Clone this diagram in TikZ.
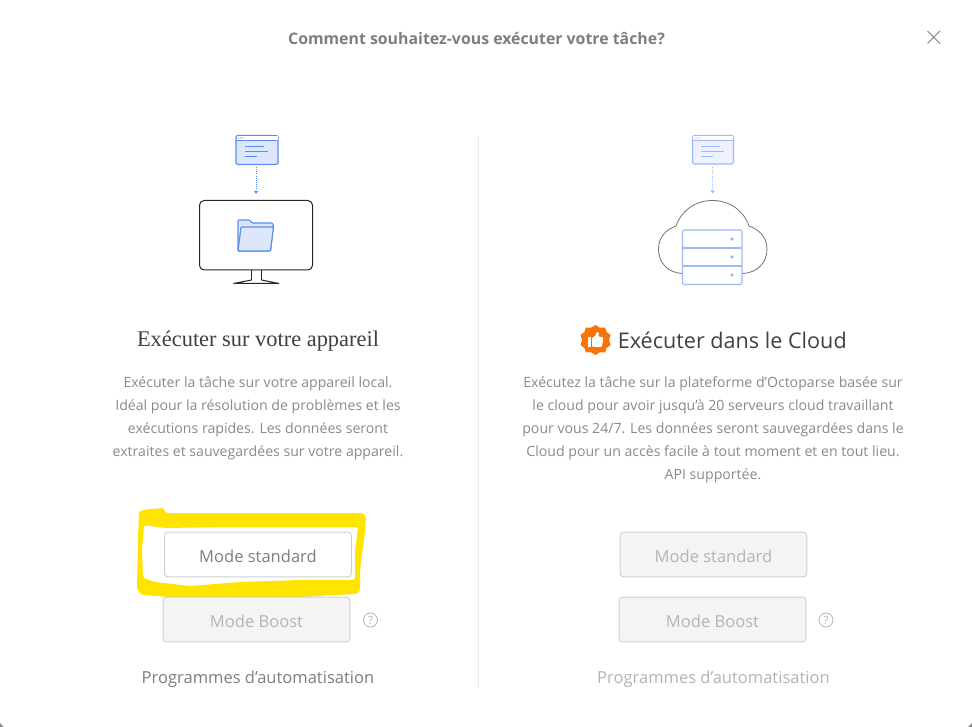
\documentclass[tikz,border=0pt]{standalone}
\usepackage{fontspec}
\setmainfont{Open Sans}
\newfontfamily\serifface{Liberation Serif}
\definecolor{hlyellow}{HTML}{FFE400}
\definecolor{btnedge}{HTML}{D0D0D0}
\definecolor{btnfill}{HTML}{F4F4F4}
\definecolor{txtgray}{HTML}{7E7E7E}
\definecolor{txtlight}{HTML}{B4B4B4}
\definecolor{bodytxt}{HTML}{8A8A8A}
\definecolor{blueA}{HTML}{5C8DF6}
\definecolor{blueB}{HTML}{9DB9FA}
\definecolor{fillA}{HTML}{DDE7FC}
\definecolor{fillB}{HTML}{EDF2FE}
\definecolor{orangeB}{HTML}{F97306}
\tikzset{
 x=0.75pt,y=-0.75pt,
 activebtn/.style={draw=btnedge,line width=0.7pt,fill=white,rounded corners=2.5pt,minimum width=140pt,minimum height=33.5pt,inner sep=0pt,text height=12.3pt,text depth=0pt,text=txtgray,font=\fontsize{12.4}{15}\selectfont},
 offbtn/.style={draw=btnedge,line width=0.7pt,fill=btnfill,rounded corners=2.5pt,minimum width=140pt,minimum height=33.5pt,inner sep=0pt,text height=12.3pt,text depth=0pt,text=txtlight,font=\fontsize{12.4}{15}\selectfont},
 para/.style={align=center,text=bodytxt,font=\fontsize{10.58}{17.25}\selectfont,inner sep=0pt},
 auto/.style={text=#1,font=\fontsize{12.4}{15}\selectfont,inner sep=0pt},
 help/.style={circle,draw=txtlight,line width=0.6pt,minimum size=10.5pt,inner sep=0pt,text=txtlight,font=\fontsize{8.5}{9}\selectfont},
}
\begin{document}
\begin{tikzpicture}
\useasboundingbox (0,0) rectangle (972,727);
\fill[white] (0,0) rectangle (972,727);
% window corners
\fill[black!45] (0,723) -- (4,727) -- (0,727) -- cycle;
\fill[black!45] (972,723) -- (968,727) -- (972,727) -- cycle;
% title and close
\node[text=txtgray,font=\fontsize{11.9}{15}\bfseries\selectfont,inner sep=0pt] (title) at (476.5,38.5) {Comment souhaitez-vous exécuter votre tâche?};
\draw[txtgray,line width=0.75pt] (927.5,31) -- (940,43.5) (940,31) -- (927.5,43.5);
% divider
\draw[black!8,line width=0.6pt] (478.5,136) -- (478.5,688);
% left window icon
\draw[blueA,line width=0.8pt,fill=fillA,rounded corners=1pt] (236,135.5) rectangle (278,164.5);
\fill[white] (236.5,136) rectangle (277.5,140.5);
\draw[blueA,line width=0.5pt] (236,140.5) -- (278,140.5);
\fill[blueA] (238.7,138) circle (.7) (240.7,138) circle (.7) (243,138) circle (.7);
\draw[blueA,line width=0.6pt] (244.5,146) -- (264,146) (244.5,151.3) -- (267.5,151.3) (244.5,156.5) -- (257,156.5);
\draw[blueA,line width=0.6pt,densely dotted] (256,167) -- (256,190);
\fill[blueA] (254,191) -- (258,191) -- (256,194) -- cycle;
% monitor
\draw[black!85,line width=0.75pt,rounded corners=3.5pt] (199.5,200.5) rectangle (312.5,270);
\draw[black!85,line width=0.75pt] (251.5,270) -- (251.5,280) (261.5,270) -- (261.5,280);
\draw[black!85,line width=0.75pt] (251.5,280) -- (233.5,283.5) -- (279,283.5) -- (261.5,280);
% folder
\draw[blueA,line width=0.9pt,fill=fillA,rounded corners=0.7pt] (238,220) -- (249.5,220) -- (252,223) -- (272.5,223) -- (273.5,226) -- (273,227) -- (270.5,251) -- (238,251) -- cycle;
\draw[blueA,line width=0.9pt,fill=fillA,rounded corners=0.7pt] (241,227) -- (273.5,227) -- (270.5,251) -- (238,251) -- cycle;
% right window icon
\draw[blueB,line width=0.8pt,fill=fillB,rounded corners=1pt] (692.5,135.5) rectangle (733.5,164);
\fill[white] (693,136) rectangle (733,140);
\draw[blueB,line width=0.5pt] (692.5,140.3) -- (733.5,140.3);
\fill[blueB] (695,138) circle (.7) (697,138) circle (.7) (699.3,138) circle (.7);
\draw[blueB,line width=0.6pt] (701,146) -- (720,146) (701,151.3) -- (724,151.3) (701,156.5) -- (713,156.5);
\draw[blueB,line width=0.6pt,densely dotted] (712.5,167) -- (712.5,190);
\fill[blueB] (710.5,190.5) -- (714.5,190.5) -- (712.5,193.5) -- cycle;
% cloud
\draw[black!55,line width=0.6pt] (683,273.5) .. controls (667,273) and (658.5,262) .. (658.5,249)
 .. controls (658.5,238) and (665,230) .. (676,226)
 .. controls (681,211) and (695,200.5) .. (712.5,200.5)
 .. controls (730,200.5) and (744,211) .. (749,226)
 .. controls (760,230) and (767,238) .. (767,249)
 .. controls (767,262) and (758,273) .. (742,273.5);
% server
\draw[blueB,line width=0.8pt,fill=white,rounded corners=1pt] (682.5,230) rectangle (742,284.5);
\draw[blueB,line width=0.8pt] (682.5,248) -- (742,248) (682.5,266) -- (742,266);
\fill[blueB] (732,239) circle (1.9) (732,257) circle (1.9) (732,275) circle (1.9);
% headings
\node[text=black!75,font=\fontsize{16.8}{18}\serifface\selectfont,inner sep=0pt] (lhead) at (258,341) {Exécuter sur votre appareil};
\node[text=black!75,font=\fontsize{16.2}{18}\selectfont,inner sep=0pt,anchor=west] (rhead) at (617.5,340.5) {Exécuter dans le Cloud};
% badge
\fill[orangeB] plot[smooth cycle,tension=.5] coordinates {
 (595.5,325) (600,327.8) (605,327.5) (606.5,332) (610.5,335) (609,340) (610.5,345) (606.5,348) (605,352.5) (600,352.2) (595.5,355) (591,352.2) (586,352.5) (584.5,348) (580.5,345) (582,340) (580.5,335) (584.5,332) (586,327.5) (591,327.8)};
\fill[white] (588.3,337.5) rectangle (591,347);
\fill[white,rounded corners=0.8pt] (592,337.5) -- (595,336.5) -- (597,331.5) -- (599,332.5) -- (598.5,336.8) -- (603.5,337) -- (602,347) -- (592,347) -- cycle;
% body text
\node[para] (lbody) at (258,418.5) {Exécuter la tâche sur votre appareil local.\\Idéal pour la résolution de problèmes et les\\exécutions rapides. Les données seront\\extraites et sauvegardées sur votre appareil.};
\node[para] (rbody) at (713,430) {Exécutez la tâche sur la plateforme d\char39 Octoparse basée sur\\le cloud pour avoir jusqu\char39 à 20 serveurs cloud travaillant\\pour vous 24/7. Les données seront sauvegardées dans le\\Cloud pour un accès facile à tout moment et en tout lieu.\\API supportée.};
% highlight
\fill[hlyellow,even odd rule,rounded corners=2pt]
 (139,511) -- (150,509) -- (164,508) -- (165,513) -- (362,513) -- (366,516) -- (365,532) -- (360,570) -- (360,592) -- (355,594) -- (300,597) -- (200,600) -- (170,597) -- (142,595) -- (137,590) -- (138,540) -- cycle
 (144,525) -- (165,528) -- (230,527) -- (358,527) -- (355,552) -- (355,580) -- (300,580) -- (240,582) -- (190,586) -- (155,582) -- (143,578) -- (142,550) -- cycle;
% buttons
\node[activebtn] (ls) at (258,554.5) {Mode standard};
\node[offbtn] (lb) at (256.5,619.5) {Mode Boost};
\node[offbtn] (rs) at (713.5,554.5) {Mode standard};
\node[offbtn] (rb) at (712.5,619.5) {Mode Boost};
\node[help] (lh) at (370.5,620) {?};
\node[help] (rh) at (826,620) {?};
\node[auto=txtgray] (la) at (258,679) {Programmes d\char39 automatisation};
\node[auto=txtlight] (ra) at (713.5,679) {Programmes d\char39 automatisation};
\end{tikzpicture}
\end{document}
